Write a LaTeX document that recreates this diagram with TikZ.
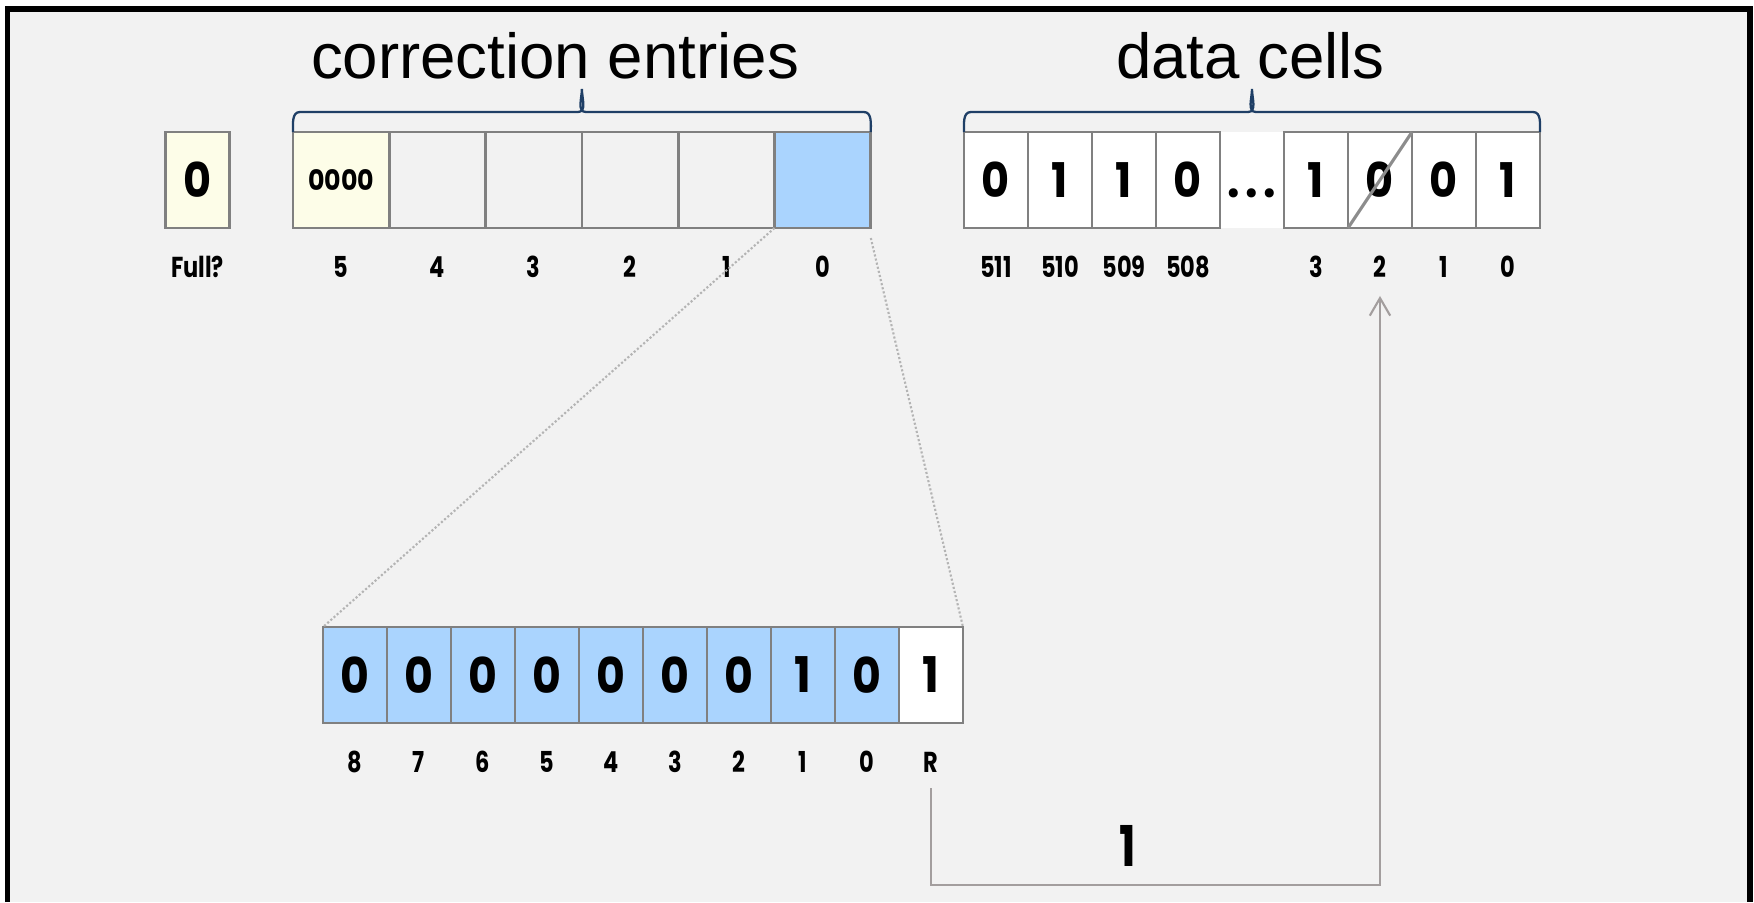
\documentclass[tikz,border=0pt]{standalone}
\usepackage{fontspec}
\setmainfont{Liberation Sans}
\newfontfamily\bitfont{Poppins}[FakeStretch=0.9]
\newfontfamily\idxfont{Poppins}[FakeStretch=0.78]
\usetikzlibrary{arrows.meta,positioning,calc}

\definecolor{bgcolor}{HTML}{F2F2F2}
\definecolor{cellline}{HTML}{808080}
\definecolor{setcolor}{HTML}{AAD4FE}
\definecolor{flagcolor}{HTML}{FDFDE8}
\definecolor{bracecolor}{HTML}{1F3F66}
\definecolor{zoomcolor}{HTML}{B4B4B4}
\definecolor{feedcolor}{HTML}{A39E9E}
\definecolor{strikecolor}{HTML}{8C8C8C}

\newcommand{\bitbig}{\bitfont\bfseries\fontsize{13.6pt}{15pt}\selectfont}
\newcommand{\bitwide}{\bitfont\bfseries\fontsize{14pt}{16pt}\selectfont}
\newcommand{\bitsmall}{\idxfont\bfseries\fontsize{8.2pt}{9pt}\selectfont}
\newcommand{\skipdots}{\vphantom{0}{\fontsize{14pt}{15pt}\selectfont .\kern1.6pt.\kern1.6pt.}}

% curly brace sitting on top of a row of cells
\newcommand{\cellbrace}[2]{%
  \draw[brace] (#1) to[out=90,in=180] ++(0.07,0.2)
    -- ($(#1)!0.5!(#2)+(-0.04,0.2)$) to[out=0,in=-90] ++(0.04,0.23)
    to[out=-90,in=180] ++(0.04,-0.23)
    -- ($(#2)+(-0.07,0.2)$) to[out=0,in=90] (#2);
}

\begin{document}
\begin{tikzpicture}[
    node distance=0pt,
    cell/.style={
        rectangle, draw=cellline, line width=0.75pt, fill=#1, outer sep=0pt,
        minimum width=0.64cm, minimum height=0.96cm, inner sep=0pt, font=\bitbig
    },
    cell/.default=white,
    entry/.style={cell=#1, minimum width=0.963cm},
    entry/.default=bgcolor,
    wordcell/.style={cell=#1, font=\bitwide},
    wordcell/.default=setcolor,
    idx/.style={font=\bitsmall, inner sep=1pt},
    title/.style={font=\fontsize{18.1pt}{20pt}\selectfont, anchor=base, inner sep=0pt},
    brace/.style={draw=bracecolor, line width=0.65pt},
    zoomline/.style={draw=zoomcolor, line width=0.6pt, dash pattern=on 0.6pt off 0.6pt},
    feed/.style={-{Straight Barb[length=5pt, width=5.8pt]}, draw=feedcolor, line width=0.6pt},
    strike/.style={draw=strikecolor, line width=0.9pt},
    frame/.style={draw=black, line width=1.45pt}
]
\useasboundingbox (0,0) rectangle (17.54,9.02);

% Panel
\fill[white] (0,0) rectangle (17.54,9.02);
\fill[bgcolor] (0.075,0) rectangle (17.50,8.93);
\draw[frame] (0.075,0) |- (17.50,8.93) -- (17.50,0);

% Titles
\node[title] (ttlentries) at (5.55,8.235) {correction entries};
\node[title] (ttlcells) at (12.505,8.235) {data cells};

% Full flag
\node[cell=flagcolor] (F) at (1.975,7.22) {0};
\node[idx] (f) at ([yshift=-0.87cm]F.center) {Full?};

% Correction entries (5 down to 0)
\node[entry=flagcolor, font=\bitfont\bfseries\fontsize{8pt}{9pt}\selectfont] (E5) at (3.4115,7.22) {0000};
\node[entry, right=of E5] (E4) {};
\node[entry, right=of E4] (E3) {};
\node[entry, right=of E3] (E2) {};
\node[entry, right=of E2] (E1) {};
\node[entry=setcolor, right=of E1] (E0) {};

\node[idx] (e5) at ([yshift=-0.87cm]E5.center) {5};
\node[idx] (e4) at ([yshift=-0.87cm]E4.center) {4};
\node[idx] (e3) at ([yshift=-0.87cm]E3.center) {3};
\node[idx] (e2) at ([yshift=-0.87cm]E2.center) {2};
\node[idx] (e1) at ([yshift=-0.87cm]E1.center) {1};
\node[idx] (e0) at ([yshift=-0.87cm]E0.center) {0};

% Data cells (511 down to 0)
\node[cell] (D511) at (9.96,7.22) {0};
\node[cell, right=of D511] (D510) {1};
\node[cell, right=of D510] (D509) {1};
\node[cell, draw=none, right=0.64cm of D509] (Dgap) {\skipdots};
\node[cell, right=of D509] (D508) {0};
\node[cell, right=of Dgap] (D3) {1};
\node[cell, right=of D3] (D2) {0};
\node[cell, right=of D2] (D1) {0};
\node[cell, right=of D1] (D0) {1};
\draw[strike] (D2.south west) -- (D2.north east);

\node[idx] (d511) at ([yshift=-0.87cm]D511.center) {511};
\node[idx] (d510) at ([yshift=-0.87cm]D510.center) {510};
\node[idx] (d509) at ([yshift=-0.87cm]D509.center) {509};
\node[idx] (d508) at ([yshift=-0.87cm]D508.center) {508};
\node[idx] (d3) at ([yshift=-0.87cm]D3.center) {3};
\node[idx] (d2) at ([yshift=-0.87cm]D2.center) {2};
\node[idx] (d1) at ([yshift=-0.87cm]D1.center) {1};
\node[idx] (d0) at ([yshift=-0.87cm]D0.center) {0};

% Braces
\cellbrace{E5.north west}{E0.north east}
\cellbrace{D511.north west}{D0.north east}

% Entry 0 expanded
\node[wordcell] (W8) at (3.55,2.27) {0};
\node[wordcell, right=of W8] (W7) {0};
\node[wordcell, right=of W7] (W6) {0};
\node[wordcell, right=of W6] (W5) {0};
\node[wordcell, right=of W5] (W4) {0};
\node[wordcell, right=of W4] (W3) {0};
\node[wordcell, right=of W3] (W2) {0};
\node[wordcell, right=of W2] (W1) {1};
\node[wordcell, right=of W1] (W0) {0};
\node[wordcell=white, right=of W0] (WR) {1};

\node[idx] (w8) at ([yshift=-0.87cm]W8.center) {8};
\node[idx] (w7) at ([yshift=-0.87cm]W7.center) {7};
\node[idx] (w6) at ([yshift=-0.87cm]W6.center) {6};
\node[idx] (w5) at ([yshift=-0.87cm]W5.center) {5};
\node[idx] (w4) at ([yshift=-0.87cm]W4.center) {4};
\node[idx] (w3) at ([yshift=-0.87cm]W3.center) {3};
\node[idx] (w2) at ([yshift=-0.87cm]W2.center) {2};
\node[idx] (w1) at ([yshift=-0.87cm]W1.center) {1};
\node[idx] (w0) at ([yshift=-0.87cm]W0.center) {0};
\node[idx] (wR) at ([yshift=-0.87cm]WR.center) {R};

% Zoom guides
\draw[zoomline] (E0.south west) -- (W8.north west);
\draw[zoomline] ([yshift=-0.1cm]E0.south east) -- (WR.north east);

% Replacement bit written back
\draw[feed] ([yshift=-0.12cm]wR.south) -- ++(0,-0.97) -| ([yshift=-0.14cm]d2.south);
\node[font=\idxfont\bfseries\fontsize{16pt}{18pt}\selectfont] (bitval) at (11.28,0.56) {1};

\end{tikzpicture}
\end{document}
